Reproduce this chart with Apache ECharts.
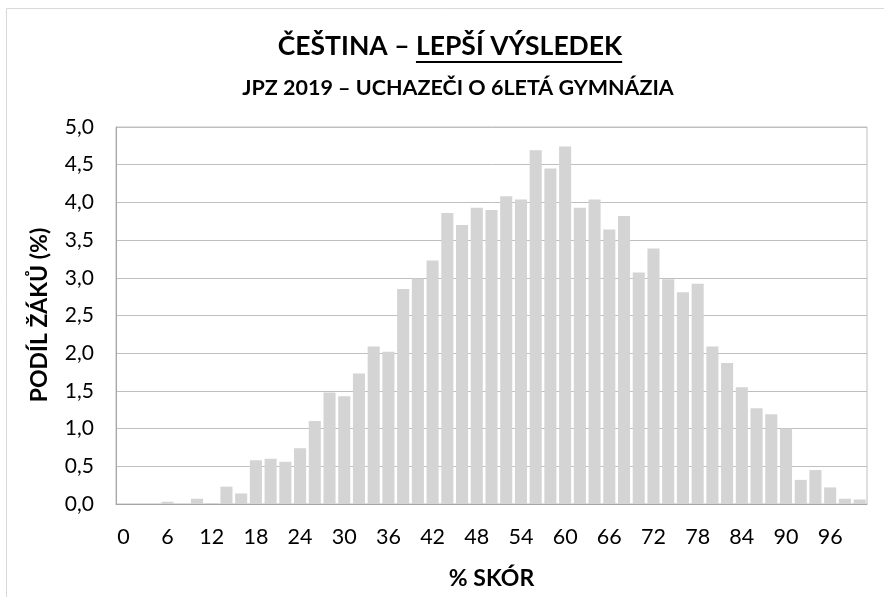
<!DOCTYPE html>
<html>
<head>
<meta charset="utf-8">
<script src="https://cdn.jsdelivr.net/npm/echarts@6/dist/echarts.min.js"></script>
<style>
html,body{margin:0;padding:0;background:#fff;}
#chart{width:884px;height:597px;}
</style>
</head>
<body>
<div id="chart"></div>
<script>
const titlePart1 = 'ČEŠTINA – ';
const titlePart2 = 'LEPŠÍ VÝSLEDEK';
const subtitleText = 'JPZ 2019 – UCHAZEČI O 6LETÁ GYMNÁZIA';
const yAxisTitle = 'PODÍL ŽÁKŮ (%)';
const xAxisTitle = '% SKÓR';

const categories = [0,2,4,6,8,10,12,14,16,18,20,22,24,26,28,30,32,34,36,38,40,42,44,46,48,50,52,54,56,58,60,62,64,66,68,70,72,74,76,78,80,82,84,86,88,90,92,94,96,98,100];
const shares = [0,0,0,0.03,0,0.07,0.01,0.23,0.14,0.58,0.60,0.56,0.74,1.10,1.48,1.43,1.73,2.09,2.02,2.85,2.99,3.23,3.86,3.70,3.93,3.90,4.08,4.04,4.69,4.45,4.74,3.93,4.04,3.64,3.82,3.07,3.39,2.98,2.81,2.92,2.09,1.87,1.55,1.27,1.19,1.00,0.32,0.45,0.22,0.07,0.06];

const FONT = 'Lato';
const titleSize = 26.5;
const subSize = 21.5;

function measure(text, size, weight) {
  const c = document.createElement('canvas').getContext('2d');
  c.font = weight + ' ' + size + 'px ' + FONT;
  return c.measureText(text).width;
}

const chart = echarts.init(document.getElementById('chart'), null, {renderer: 'canvas'});

function build() {
  const cx = 450;
  const wFull = measure(titlePart1 + titlePart2, titleSize, 'bold');
  const w1 = measure(titlePart1, titleSize, 'bold');
  const ulStart = cx - wFull / 2 + w1;
  const ulEnd = cx + wFull / 2;

  chart.setOption({
    animation: false,
    backgroundColor: '#fff',
    grid: {left: 116, right: 17, top: 127, bottom: 93, show: true, borderColor: '#bfbfbf', borderWidth: 1},
    xAxis: {
      type: 'category',
      data: categories,
      axisTick: {show: false},
      axisLine: {lineStyle: {color: '#a6a6a6', width: 1}},
      axisLabel: {interval: 2, margin: 22, color: '#000', fontFamily: FONT, fontSize: 21.5}
    },
    yAxis: {
      type: 'value',
      min: 0, max: 5, interval: 0.5,
      axisLine: {show: true, lineStyle: {color: '#a6a6a6'}},
      axisTick: {show: false},
      splitLine: {lineStyle: {color: '#bfbfbf', width: 1}},
      axisLabel: {margin: 22, color: '#000', fontFamily: FONT, fontSize: 21,
        formatter: v => v.toFixed(1).replace('.', ',')}
    },
    series: [{
      type: 'bar',
      data: shares,
      barCategoryGap: '18%',
      itemStyle: {color: '#d4d4d4'}
    }],
    graphic: [
      {type: 'rect', shape: {x: 6.5, y: 8.5, width: 900, height: 620}, style: {fill: 'none', stroke: '#d9d9d9', lineWidth: 1}, silent: true},
      {type: 'text', x: cx, y: 46, style: {text: titlePart1 + titlePart2, font: 'bold ' + titleSize + 'px ' + FONT, fill: '#000', align: 'center', verticalAlign: 'middle'}},
      {type: 'line', shape: {x1: ulStart, y1: 62, x2: ulEnd, y2: 62}, style: {stroke: '#000', lineWidth: 2}},
      {type: 'text', x: 458, y: 88, style: {text: subtitleText, font: 'bold ' + subSize + 'px ' + FONT, fill: '#000', align: 'center', verticalAlign: 'middle'}},
      {type: 'text', x: 40, y: 315, rotation: Math.PI / 2, style: {text: yAxisTitle, font: 'bold 23px ' + FONT, fill: '#000', align: 'center', verticalAlign: 'middle'}},
      {type: 'text', x: 491.5, y: 579, style: {text: xAxisTitle, font: 'bold 23px ' + FONT, fill: '#000', align: 'center', verticalAlign: 'middle'}}
    ]
  });
}

build();
if (document.fonts && document.fonts.ready) {
  document.fonts.load('bold 27px Lato').then(build).catch(()=>{});
}
</script>
</body>
</html>
